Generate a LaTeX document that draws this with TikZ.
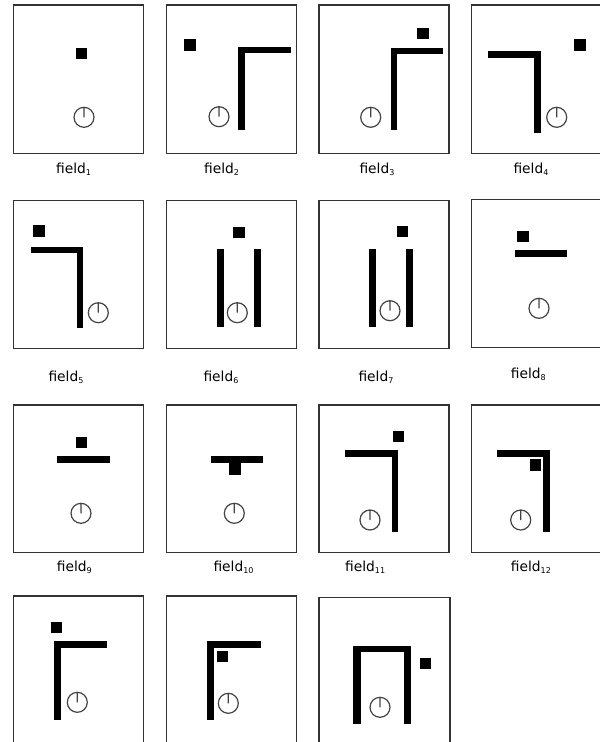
\documentclass[tikz,border=0pt]{standalone}
\usepackage{fontspec}
\setmainfont{DejaVu Sans}
\definecolor{boxgray}{HTML}{333333}
\definecolor{dialgray}{HTML}{444444}
\newcommand\fieldlab[1]{field\raisebox{-0.3ex}{\fontsize{8}{8}\selectfont #1}}
\newcommand\mydial[2]{\draw[dialline] (#1,#2) circle (10) (#1,#2) -- (#1,#2-10);}
\begin{document}
\begin{tikzpicture}[x=1pt,y=-1pt,
  fieldbox/.style={draw=boxgray,line width=1.1pt},
  dialline/.style={draw=dialgray,line width=1.2pt},
  wall/.style={fill=black},
  lab/.style={anchor=base west,inner sep=0pt,font=\fontsize{13.8}{15}\selectfont}]
\clip (0,0) rectangle (600,742);
\fill[white] (0,0) rectangle (600,742);
% ---------- row 1 ----------
\draw[fieldbox] (13.3,5) rectangle (143.3,153.3);
\fill[wall] (75.7,48.3) rectangle (87,59.3);
\mydial{84}{117.3}
\node[lab] (l1) at (56,173.5) {\fieldlab{1}};

\draw[fieldbox] (166.7,5) rectangle (296.7,153.3);
\fill[wall] (184.3,39) rectangle (196,50.7);
\fill[wall] (238.3,46.7) rectangle (245,130);
\fill[wall] (238.3,46.7) rectangle (291,53.3);
\mydial{219}{116.7}
\node[lab] (l2) at (204,173.5) {\fieldlab{2}};

\draw[fieldbox] (319,5) rectangle (449,153.3);
\fill[wall] (417.3,27.7) rectangle (429,39);
\fill[wall] (390.7,47.7) rectangle (397.3,130);
\fill[wall] (390.7,47.7) rectangle (443.3,54.3);
\mydial{370.7}{117.3}
\node[lab] (l3) at (359.3,173.5) {\fieldlab{3}};

\draw[fieldbox] (471.7,5) rectangle (601.7,153.3);
\fill[wall] (488.3,51) rectangle (540.7,57.7);
\fill[wall] (534,51) rectangle (540.7,132.7);
\fill[wall] (574.3,39.3) rectangle (585.7,50.7);
\mydial{556.7}{117.3}
\node[lab] (l4) at (513.3,173.5) {\fieldlab{4}};
% ---------- row 2 ----------
\draw[fieldbox] (13.3,200.7) rectangle (143.3,348.3);
\fill[wall] (33.3,225) rectangle (45,236.7);
\fill[wall] (31,246.7) rectangle (83.3,253.3);
\fill[wall] (76.7,246.7) rectangle (83.3,328.3);
\mydial{98.3}{312.7}
\node[lab] (l5) at (48.3,381) {\fieldlab{5}};

\draw[fieldbox] (166.7,200.7) rectangle (296.7,348.3);
\fill[wall] (233.3,226.7) rectangle (245,238.3);
\fill[wall] (217.3,249) rectangle (224,327.3);
\fill[wall] (254,249) rectangle (260.7,327.3);
\mydial{237.3}{312.7}
\node[lab] (l6) at (203.3,381) {\fieldlab{6}};

\draw[fieldbox] (319,200.7) rectangle (449,348.3);
\fill[wall] (397.3,225.7) rectangle (408.3,236.7);
\fill[wall] (369,249) rectangle (376,326.7);
\fill[wall] (406,249) rectangle (412.7,326.7);
\mydial{390}{310.7}
\node[lab] (l7) at (358.3,381) {\fieldlab{7}};

\draw[fieldbox] (471.7,199.3) rectangle (601.7,347.3);
\fill[wall] (517.3,231) rectangle (529,242.3);
\fill[wall] (515,250) rectangle (567.3,256.7);
\mydial{539}{308.3}
\node[lab] (l8) at (510.7,378.3) {\fieldlab{8}};
% ---------- row 3 ----------
\draw[fieldbox] (13.3,405) rectangle (143.3,552.3);
\fill[wall] (75.7,436.7) rectangle (87.3,447.7);
\fill[wall] (57.3,456) rectangle (110,462.7);
\mydial{81}{513.3}
\node[lab] (l9) at (56.7,571.5) {\fieldlab{9}};

\draw[fieldbox] (166.7,405) rectangle (296.7,552.3);
\fill[wall] (210.7,456) rectangle (263.3,462.7);
\fill[wall] (229,463.3) rectangle (240.7,475);
\mydial{234.3}{513.3}
\node[lab] (l10) at (213.3,571.5) {\fieldlab{10}};

\draw[fieldbox] (319,405) rectangle (449,552.3);
\fill[wall] (392.7,431) rectangle (404,442.3);
\fill[wall] (345,450) rectangle (398.3,456.7);
\fill[wall] (391.7,450) rectangle (398.3,532.3);
\mydial{370}{520}
\node[lab] (l11) at (345,571.5) {\fieldlab{11}};

\draw[fieldbox] (471.7,405) rectangle (601.7,552.3);
\fill[wall] (497.3,450) rectangle (550,456.7);
\fill[wall] (543.3,450) rectangle (550,532.3);
\fill[wall] (530,459.3) rectangle (541,470.7);
\mydial{520.7}{520}
\node[lab] (l12) at (510.7,571.5) {\fieldlab{12}};
% ---------- row 4 ----------
\draw[fieldbox] (13.3,596) rectangle (143.3,750);
\fill[wall] (50.7,621.7) rectangle (62.3,632.7);
\fill[wall] (54,641) rectangle (60.7,720);
\fill[wall] (54,641) rectangle (107.3,647.7);
\mydial{77.3}{702.3}

\draw[fieldbox] (166.7,596) rectangle (296.7,750);
\fill[wall] (207.3,641) rectangle (214,720);
\fill[wall] (207.3,641) rectangle (260.7,647.7);
\fill[wall] (216.7,650.7) rectangle (227.7,661.7);
\mydial{228.3}{703.3}

\draw[fieldbox] (319,597.3) rectangle (450,750);
\fill[wall] (353.3,645.7) rectangle (360.7,724.3);
\fill[wall] (353.3,645.7) rectangle (411,652.3);
\fill[wall] (404.3,645.7) rectangle (411,724.3);
\fill[wall] (420,658.3) rectangle (431,669.3);
\mydial{380}{707.3}
\end{tikzpicture}
\end{document}
